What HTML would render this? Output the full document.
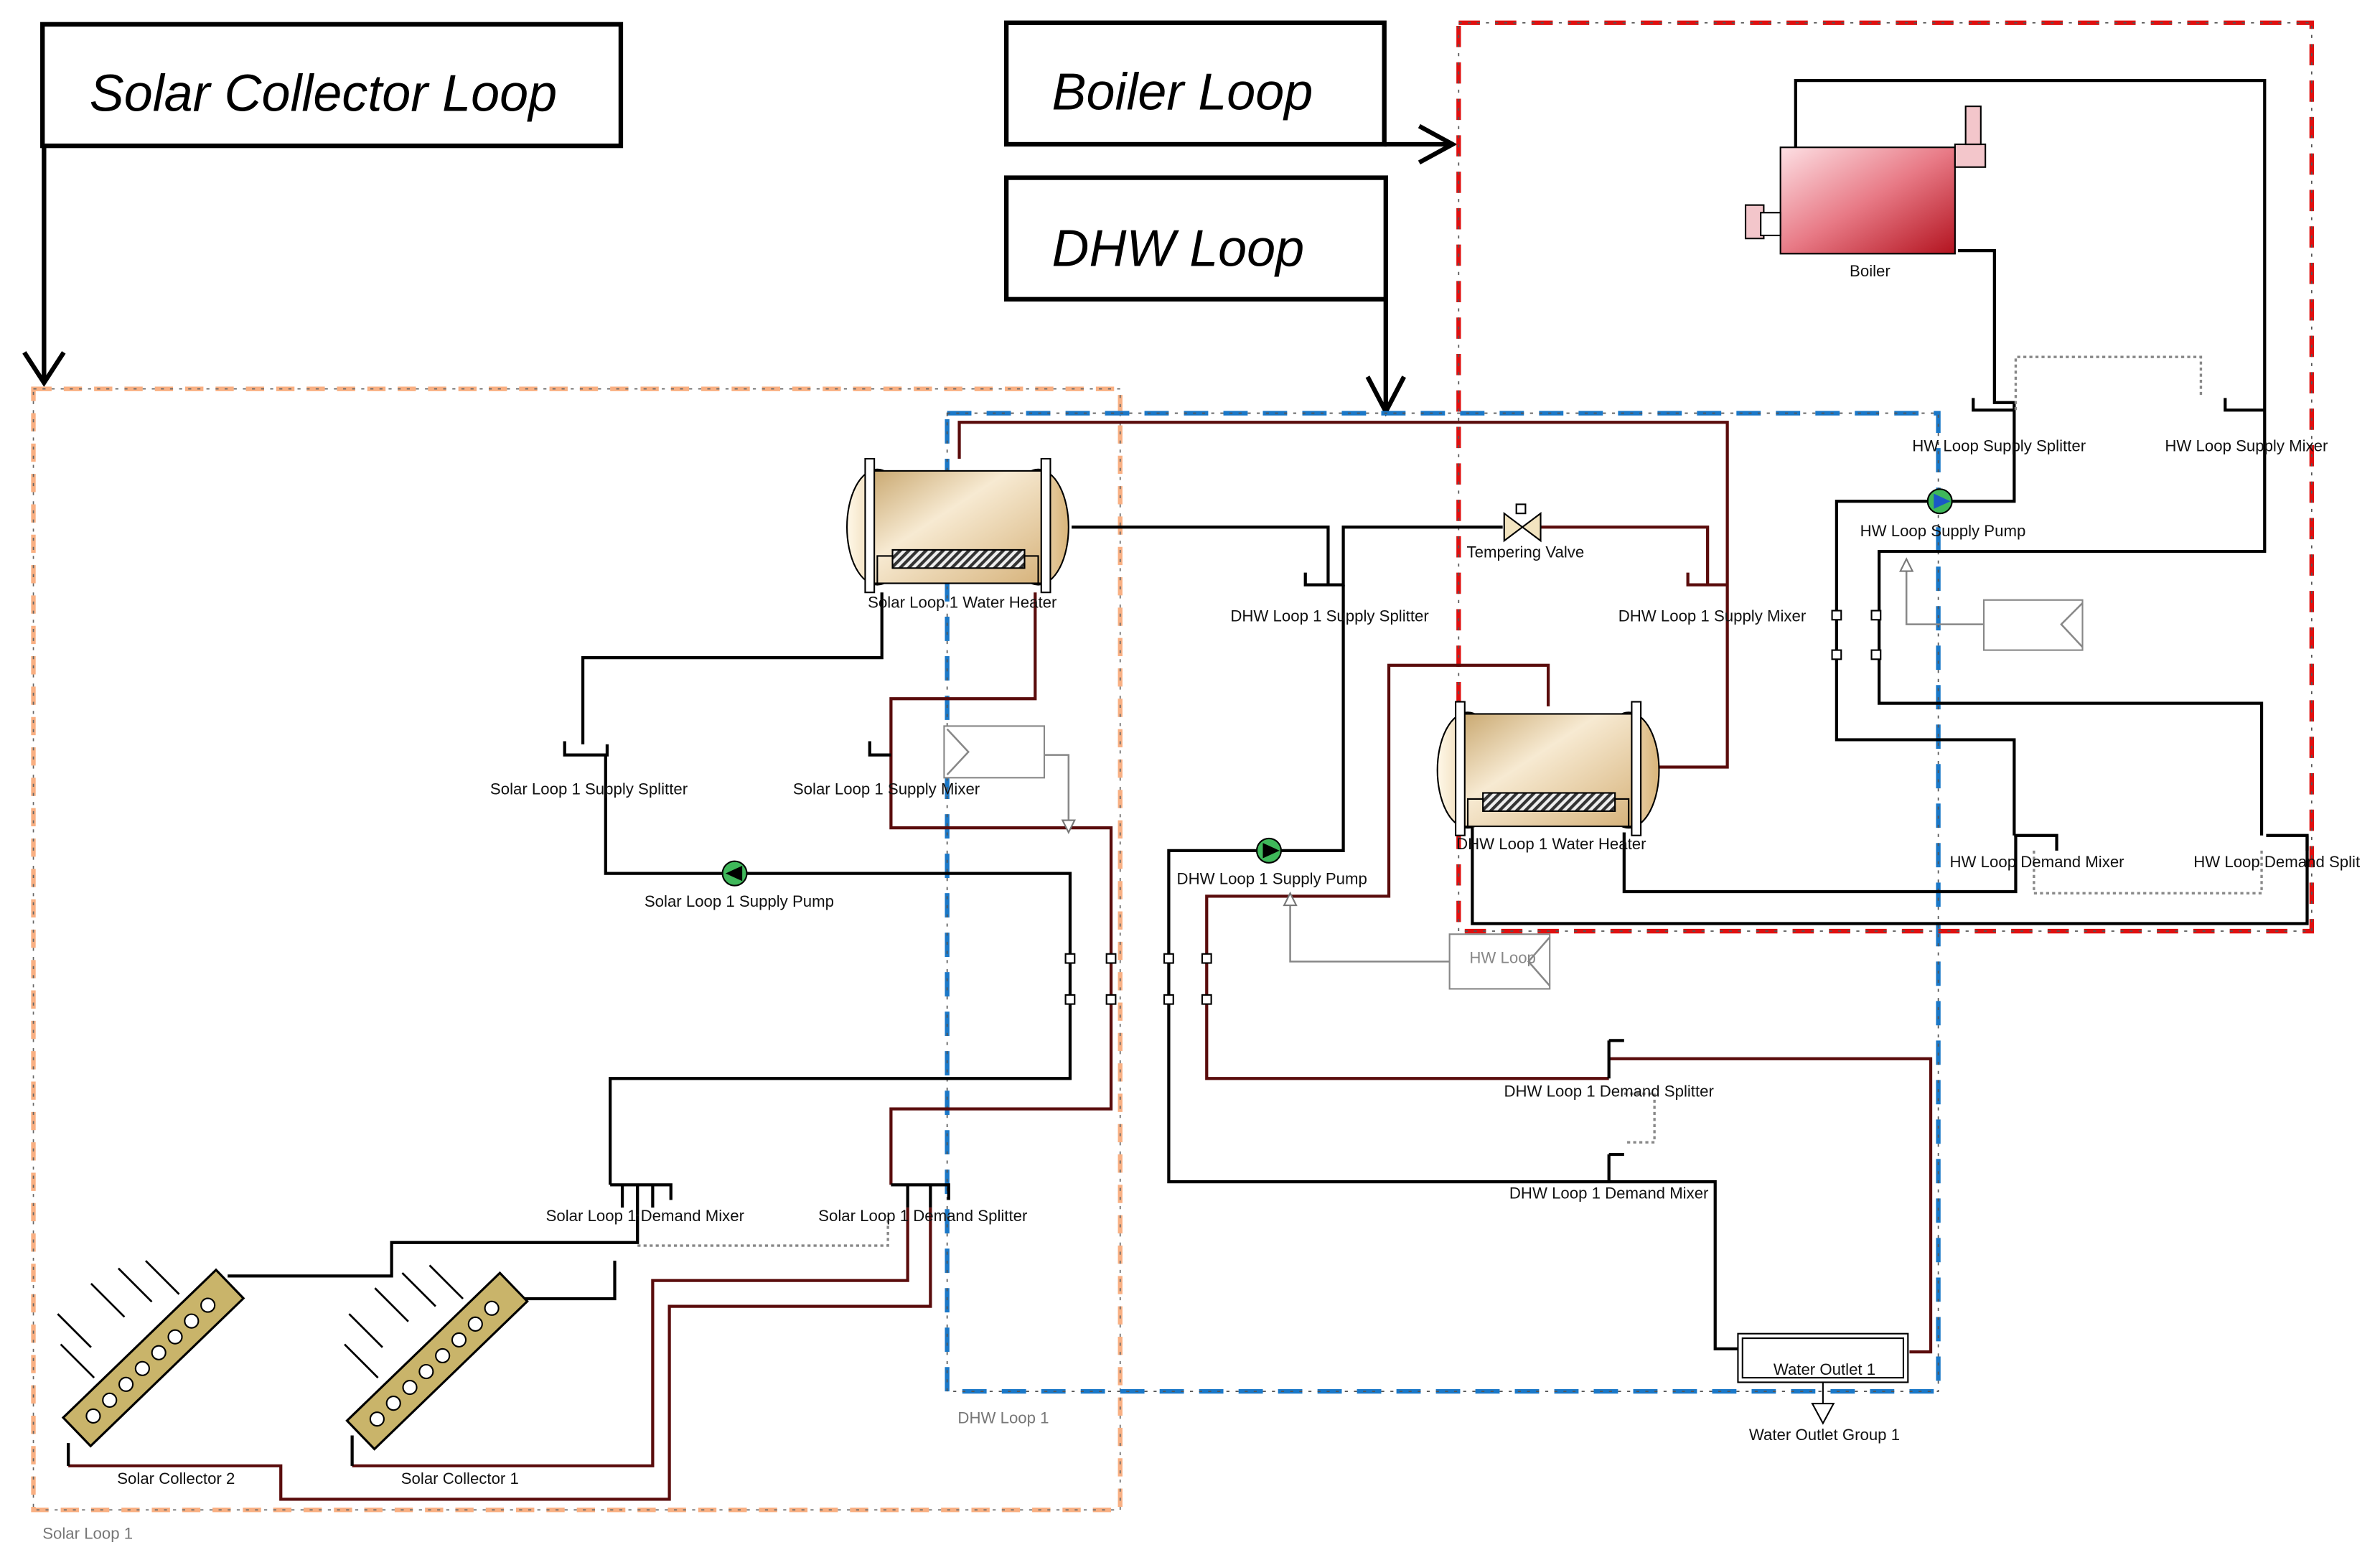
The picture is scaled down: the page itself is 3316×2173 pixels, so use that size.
<!DOCTYPE html>
<html><head><meta charset="utf-8"><style>
html,body{margin:0;padding:0;background:#fff}
svg{display:block}
text{font-family:"Liberation Sans",sans-serif}
.l{font-size:10.5px;fill:#111}
.t{font-size:34px;font-style:italic;fill:#000}
.k{stroke:#000;stroke-width:2;fill:none}
.r{stroke:#5a0c0c;stroke-width:2;fill:none}
.g{stroke:#888;stroke-width:1.2;fill:none}
.d{stroke:#888;stroke-width:1.6;fill:none;stroke-dasharray:2 2}
</style></head><body>
<svg width="3316" height="2173" viewBox="0 0 1568 1027" preserveAspectRatio="none" xmlns="http://www.w3.org/2000/svg">
<defs>
<linearGradient id="tg" x1="0" y1="0" x2="1" y2="1"><stop offset="0" stop-color="#c9a870"/><stop offset="0.4" stop-color="#f7ead2"/><stop offset="1" stop-color="#d6b27a"/></linearGradient>
<linearGradient id="cap" x1="0" y1="0" x2="1" y2="0"><stop offset="0" stop-color="#fff8e8"/><stop offset="1" stop-color="#d9b57a"/></linearGradient>
<linearGradient id="bg" x1="0" y1="0" x2="1" y2="1"><stop offset="0" stop-color="#fde0e4"/><stop offset="0.5" stop-color="#e87a86"/><stop offset="1" stop-color="#b3131f"/></linearGradient>
<pattern id="hp" width="4" height="4" patternUnits="userSpaceOnUse" patternTransform="rotate(45)"><rect width="4" height="4" fill="#eee"/><rect width="2" height="4" fill="#333"/></pattern>
<g id="tank">
<ellipse cx="22" cy="45" rx="20" ry="38" fill="url(#cap)" stroke="#000"/>
<ellipse cx="128" cy="45" rx="20" ry="38" fill="url(#cap)" stroke="#000"/>
<rect x="18" y="8" width="114" height="74" fill="url(#tg)" stroke="#000"/>
<rect x="14" y="0" width="6" height="88" fill="#fff" stroke="#000"/>
<rect x="130" y="0" width="6" height="88" fill="#fff" stroke="#000"/>
<rect x="32" y="60" width="87" height="12" fill="url(#hp)" stroke="#000"/>
<path d="M22 83 V64 H32 M119 64 H128 V83" stroke="#000" fill="none"/>
</g>
<g id="coll">
<rect x="-70" y="-13" width="140" height="26" fill="#c9b46a" stroke="#000" stroke-width="1.5"/>
<g fill="#fff" stroke="#000"><circle cx="-55" cy="0" r="4.5"/><circle cx="-40" cy="0" r="4.5"/><circle cx="-25" cy="0" r="4.5"/><circle cx="-10" cy="0" r="4.5"/><circle cx="5" cy="0" r="4.5"/><circle cx="20" cy="0" r="4.5"/><circle cx="35" cy="0" r="4.5"/><circle cx="50" cy="0" r="4.5"/></g>
</g>
<g id="rays" stroke="#000" stroke-width="1.3" fill="none">
<path d="M0 0 l26 26 M-4 8 l4 -4"/></g>
</defs>

<!-- Title boxes -->
<rect x="28" y="16" width="381" height="80" fill="#fff" stroke="#000" stroke-width="3"/>
<text class="t" x="59" y="73">Solar Collector Loop</text>
<path d="M29 96 V250 M16 232 L29 252 L42 232" stroke="#000" stroke-width="3" fill="none"/>
<rect x="663" y="15" width="249" height="80" fill="#fff" stroke="#000" stroke-width="3"/>
<text class="t" x="693" y="72">Boiler Loop</text>
<path d="M912 95 H955 M935 83 L957 95 L935 107" stroke="#000" stroke-width="3" fill="none"/>
<rect x="663" y="117" width="250" height="80" fill="#fff" stroke="#000" stroke-width="3"/>
<text class="t" x="693" y="175">DHW Loop</text>
<path d="M913 197 V270 M901 248 L913 271 L925 248" stroke="#000" stroke-width="3" fill="none"/>

<!-- Loop boundaries -->
<rect x="22" y="256" width="716" height="738" fill="none" stroke="#f9b083" stroke-width="3" stroke-dasharray="12 8"/>
<rect x="22" y="256" width="716" height="738" fill="none" stroke="#666" stroke-width="0.8" stroke-dasharray="2 4"/>
<text x="28" y="1013" font-size="10.5" fill="#777">Solar Loop 1</text>
<rect x="624" y="272" width="653" height="644" fill="none" stroke="#1a78c8" stroke-width="3" stroke-dasharray="16 10"/>
<rect x="624" y="272" width="653" height="644" fill="none" stroke="#555" stroke-width="0.8" stroke-dasharray="2 4"/>
<text x="631" y="937" font-size="10.5" fill="#777">DHW Loop 1</text>
<rect x="961" y="15" width="562" height="598" fill="none" stroke="#e01010" stroke-width="3" stroke-dasharray="14 10"/>
<rect x="961" y="15" width="562" height="598" fill="none" stroke="#555" stroke-width="0.8" stroke-dasharray="2 4"/>

<!-- Solar loop pipes -->
<path class="k" d="M581 390 V433 H384 V490"/>
<path class="k" d="M372 488 V497 H400 V490 M399 497 V575 H705 V710 H402 V780"/>
<path class="r" d="M682 390 V460 H587 V545 H732 V730 H587 V780"/>
<path class="k" d="M573 488 V497 H587"/>
<path class="k" d="M402 780 H442 V790 M410 780 V795 M420 780 V800 M430 780 V795"/>
<path class="k" d="M587 780 H625 V790 M598 780 V795 M613 780 V795"/>
<path class="r" d="M598 795 V843 H430 V965 H232"/>
<path class="r" d="M613 795 V860 H441 V987 H185 V965 H45"/>
<path class="k" d="M150 840 H258 V818 H420 V800"/>
<path class="k" d="M335 855 H405 V830"/>
<path class="d" d="M420 820 H585 V800"/>
<path class="k" d="M45 965 V950 M232 965 V945"/>
<use href="#coll" transform="translate(101,894) rotate(-44)"/>
<use href="#coll" transform="translate(288,896) rotate(-44)"/>
<g stroke="#000" stroke-width="1.3"><path d="M78 835 l22 22 M96 830 l22 22 M60 845 l22 22 M40 885 l22 22 M38 865 l22 22 M265 838 l22 22 M283 833 l22 22 M247 848 l22 22 M227 885 l22 22 M230 865 l22 22 M118 832 l-0 0"/></g>
<rect x="622" y="478" width="66" height="34" fill="#fff" stroke="#888"/>
<path class="g" d="M624 480 L638 495 L624 510 M688 497 H704 V545"/>
<path d="M700 540 L704 548 L708 540 Z" fill="#fff" stroke="#777"/>
<g fill="#fff" stroke="#000"><rect x="702" y="628" width="6" height="6"/><rect x="702" y="655" width="6" height="6"/><rect x="729" y="628" width="6" height="6"/><rect x="729" y="655" width="6" height="6"/></g>
<circle cx="484" cy="575" r="8" fill="#3fb85a" stroke="#000"/>
<path d="M489 570 L478 575 L489 580 Z" fill="#000"/>
<use href="#tank" x="556" y="302"/>

<!-- DHW pipes -->
<path class="r" d="M632 302 V278 H1138 V505 H1093"/>
<path class="k" d="M706 347 H875 V385 M860 377 V385 H885 V347 H990"/>
<path class="r" d="M1015 347 H1125 V385 M1112 377 V385 H1138"/>
<path d="M991 338 L1015 356 V338 L991 356 Z" fill="#f2e4c0" stroke="#000"/>
<rect x="999" y="332" width="6" height="6" fill="#fff" stroke="#000"/>
<path class="k" d="M885 385 V560 H770 V778 H1130 V888 H1145"/>
<path class="r" d="M1020 465 V438 H915 V590 H795 V710 H1060 M1060 697 H1272 V890 H1258"/>
<path class="k" d="M1060 685 V710 M1060 685 H1070 M1060 760 V778 M1060 760 H1070"/>
<path class="d" d="M1070 720 H1090 V752 H1070"/>
<circle cx="836" cy="560" r="8" fill="#3fb85a" stroke="#000"/>
<path d="M832 555 L843 560 L832 565 Z" fill="#000"/>
<rect x="955" y="615" width="66" height="36" fill="#fff" stroke="#888"/>
<path class="g" d="M1021 617 L1007 633 L1021 649 M955 633 H850 V590"/>
<path d="M846 596 L850 588 L854 596 Z" fill="#fff" stroke="#777"/>
<g fill="#fff" stroke="#000"><rect x="767" y="628" width="6" height="6"/><rect x="767" y="655" width="6" height="6"/><rect x="792" y="628" width="6" height="6"/><rect x="792" y="655" width="6" height="6"/></g>
<use href="#tank" x="945" y="462"/>
<path class="k" d="M970 545 V608 H1520 V550 M1070 548 V587 H1328 V550"/>
<rect x="1145" y="878" width="112" height="32" fill="#fff" stroke="#000"/>
<rect x="1148" y="881" width="106" height="26" fill="none" stroke="#000"/>
<path d="M1194 924 L1208 924 L1201 937 Z" fill="#fff" stroke="#000"/>
<path d="M1201 910 V924" stroke="#000"/>

<!-- Boiler loop -->
<path class="k" d="M1183 97 V53 H1492 V363 H1238 V463 H1490 V550 M1493 550 H1520 V560"/>
<path class="k" d="M1290 165 H1314 V265 H1327 V330 H1210 V487 H1327 V550 M1300 262 V270 H1327 M1466 262 V270 H1492"/>
<path class="k" d="M1327 550 H1355 V560"/>
<path class="d" d="M1328 270 V235 H1450 V262"/>
<path class="d" d="M1340 560 V588 H1490 V560"/>
<circle cx="1278" cy="330" r="8" fill="#3fb85a" stroke="#000"/>
<path d="M1274 325 L1285 330 L1274 335 Z" fill="#1a58c8"/>
<rect x="1307" y="395" width="65" height="33" fill="#fff" stroke="#888"/>
<path class="g" d="M1372 397 L1358 411 L1372 426 M1307 411 H1256 V370"/>
<path d="M1252 376 L1256 368 L1260 376 Z" fill="#fff" stroke="#777"/>
<g fill="#fff" stroke="#000"><rect x="1207" y="402" width="6" height="6"/><rect x="1207" y="428" width="6" height="6"/><rect x="1233" y="402" width="6" height="6"/><rect x="1233" y="428" width="6" height="6"/></g>
<rect x="1173" y="97" width="115" height="70" fill="url(#bg)" stroke="#000"/>
<rect x="1150" y="135" width="12" height="22" fill="#f3c6cb" stroke="#000"/>
<rect x="1160" y="140" width="13" height="15" fill="#fff" stroke="#000"/>
<rect x="1288" y="95" width="20" height="15" fill="#f3c6cb" stroke="#000"/>
<rect x="1295" y="70" width="10" height="25" fill="#f3c6cb" stroke="#000"/>

<!-- Labels -->
<g class="l" text-anchor="middle">
<text x="634" y="400">Solar Loop 1 Water Heater</text>
<text x="388" y="523">Solar Loop 1 Supply Splitter</text>
<text x="584" y="523">Solar Loop 1 Supply Mixer</text>
<text x="487" y="597">Solar Loop 1 Supply Pump</text>
<text x="425" y="804">Solar Loop 1 Demand Mixer</text>
<text x="608" y="804">Solar Loop 1 Demand Splitter</text>
<text x="116" y="977">Solar Collector 2</text>
<text x="303" y="977">Solar Collector 1</text>
<text x="1005" y="367">Tempering Valve</text>
<text x="876" y="409">DHW Loop 1 Supply Splitter</text>
<text x="1128" y="409">DHW Loop 1 Supply Mixer</text>
<text x="838" y="582">DHW Loop 1 Supply Pump</text>
<text x="1022" y="559">DHW Loop 1 Water Heater</text>
<text x="990" y="634" fill="#888">HW Loop</text>
<text x="1060" y="722">DHW Loop 1 Demand Splitter</text>
<text x="1060" y="789">DHW Loop 1 Demand Mixer</text>
<text x="1202" y="905">Water Outlet 1</text>
<text x="1202" y="948">Water Outlet Group 1</text>
<text x="1232" y="182">Boiler</text>
<text x="1317" y="297">HW Loop Supply Splitter</text>
<text x="1480" y="297">HW Loop Supply Mixer</text>
<text x="1280" y="353">HW Loop Supply Pump</text>
<text x="1342" y="571">HW Loop Demand Mixer</text>
<text x="1500" y="571">HW Loop Demand Split</text>
</g>
</svg>
</body></html>
